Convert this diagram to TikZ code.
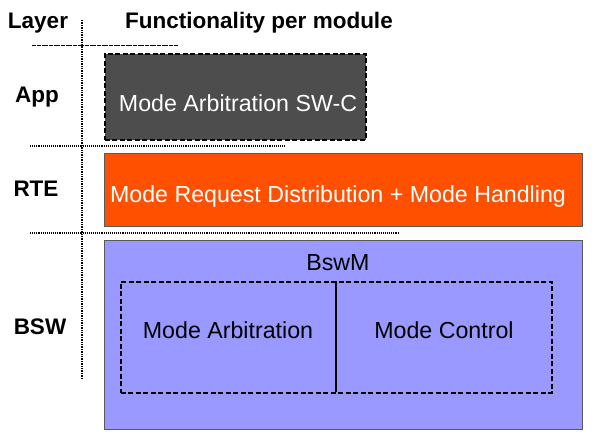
\documentclass[tikz,border=0pt]{standalone}
\usepackage{fontspec}
\setmainfont{Liberation Sans}
\definecolor{appgray}{HTML}{4D4D4D}
\definecolor{rteorange}{HTML}{FF5000}
\definecolor{bswblue}{HTML}{9999FF}
\begin{document}
\begin{tikzpicture}[x=1pt, y=-1pt,
      layer/.style = {font=\fontsize{22.5}{26}\selectfont\bfseries, anchor=center},
      module/.style = {shape=rectangle, draw=gray!70!black, anchor=north west,
        inner sep=0pt, line width=1pt
      },
      boxline/.style = {draw=black, dash pattern=on 5pt off 2.5pt, line width=1.7pt},
      sep/.style = {densely dotted, line width=1.1pt},
      sub/.style = {font=\fontsize{23.2}{27}\selectfont, anchor=center}
    ]
        \useasboundingbox (0,0) rectangle (598,443);

        % cabecera
        \node[layer] (layer) at (38,23) {Layer};
        \node[layer] (func) at (259,23) {Functionality per module};
        \coordinate (vtop) at (82,20);
        \coordinate (vbot) at (82,378);
        \draw[sep, line width=1.4pt] (vtop) -- (vbot);
        \coordinate (h0a) at (32,46);
        \coordinate (h0b) at (178,46);
        \draw[line width=1pt, dash pattern=on 2pt off 0.4pt] (h0a) -- (h0b);

        % capas
        \node[layer] (app) at (37,97) {App};
        \node[layer] (rte) at (36,189) {RTE};
        \node[layer] (bsw) at (40,327) {BSW};

        \coordinate (h1a) at (30,146);
        \coordinate (h1b) at (285,146);
        \draw[sep] (h1a) -- (h1b);
        \coordinate (h2a) at (30,233);
        \coordinate (h2b) at (398,233);
        \draw[sep] (h2a) -- (h2b);

        % modulos
        \node[module, boxline, fill=appgray,
          minimum width=261pt, minimum height=86pt] (swc) at (104,53) {};
        \node[sub, text=white] (swctext) at (238,103) {Mode Arbitration SW-C};

        \node[module, fill=rteorange, minimum width=478pt, minimum height=73pt] (rtebox) at (104,153) {};
        \node[sub, text=white] (rtetext) at (338,197) {Mode Request Distribution + Mode Handling};

        \node[module, fill=bswblue, minimum width=478pt, minimum height=189pt] (bswbox) at (104,240) {};
        \node[sub] (bswm) at (338,263) {BswM};
        \node[module, boxline, minimum width=431pt, minimum height=111pt] (inner) at (120,281) {};
        \coordinate (divtop) at (336,281);
        \coordinate (divbot) at (336,392);
        \draw[line width=1.4pt] (divtop) -- (divbot);
        \node[sub] (arb) at (228,330) {Mode Arbitration};
        \node[sub] (ctrl) at (444,330) {Mode Control};
    \end{tikzpicture}
\end{document}
